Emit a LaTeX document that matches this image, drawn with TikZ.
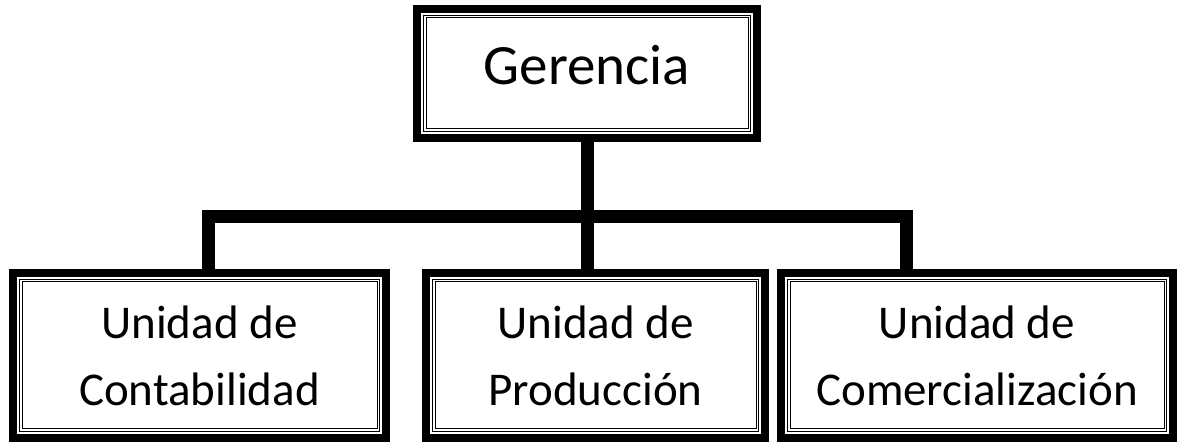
\documentclass[tikz,border=0pt]{standalone}
\usepackage{fontspec}
\setmainfont{Carlito}
\usetikzlibrary{positioning}

\begin{document}
\begin{tikzpicture}[x=1pt,y=1pt]
\tikzstyle{orgbox}=[
  rectangle,
  draw,
  line width=8pt,
  outer sep=0pt,
  inner sep=0pt,
  align=center,
  append after command={\pgfextra{
    \draw[line width=1.6pt] ([shift={(6.6pt,6.6pt)}]\tikzlastnode.south west) rectangle ([shift={(-6.6pt,-6.6pt)}]\tikzlastnode.north east);
    \draw[line width=1pt] ([shift={(9pt,9pt)}]\tikzlastnode.south west) rectangle ([shift={(-9pt,-9pt)}]\tikzlastnode.north east);
  }} ]
\tikzstyle{unit}=[orgbox, minimum height=165pt, font=\fontsize{47}{67}\selectfont]
\tikzstyle{link}=[line width=13pt]
\useasboundingbox (0,0) rectangle (1185,446);
\node[orgbox, minimum width=340pt, minimum height=129pt,
  font=\fontsize{57}{68}\selectfont, text height=37pt, text depth=14pt] (ger) at (587,372.5) {Gerencia};
\node[unit, minimum width=373pt] (cont) at (199.5,90.5) {Unidad de\\Contabilidad};
\node[unit, minimum width=339pt] (prod) at (595.5,90.5) {Unidad de\\Producción};
\node[unit, minimum width=392pt] (com) at (977,90.5) {Unidad de\\Comercialización};
\coordinate (barl) at (208,229);
\coordinate (barr) at (906.5,229);
\draw[link] (ger.south) -- (ger.south |- prod.north);
\draw[link] (cont.north -| barl) -- (barl) -- (barr) -- (com.north -| barr);
\end{tikzpicture}
\end{document}
